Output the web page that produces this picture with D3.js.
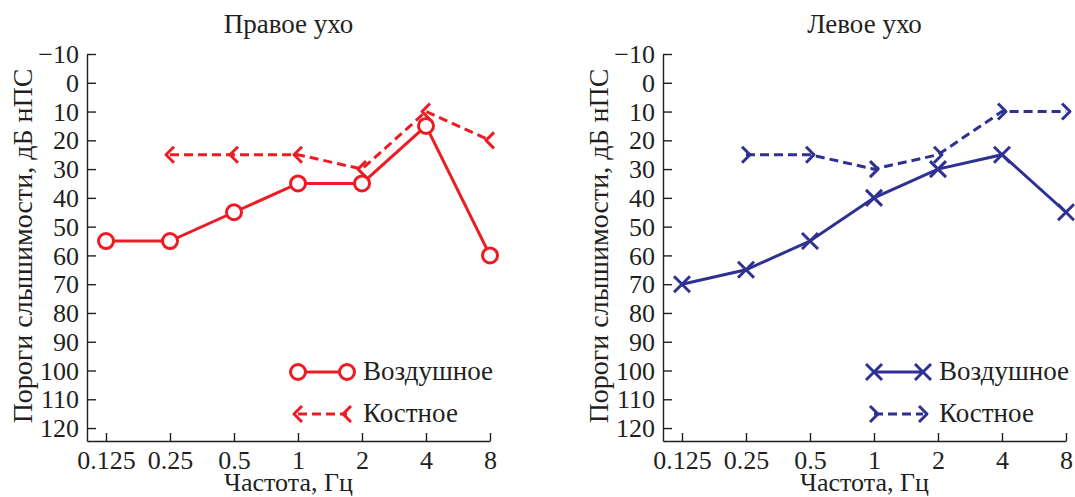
<!DOCTYPE html>
<html>
<head>
<meta charset="utf-8">
<script src="https://cdn.jsdelivr.net/npm/d3@7"></script>
<style>
  body { margin: 0; background: #fff; }
  svg { display: block; }
  svg text { font-family: "Liberation Serif", "Times New Roman", Times, serif !important; fill: #231f20; }
</style>
</head>
<body>
<svg id="svg" width="1075" height="497"></svg>
<script>
// frequencies, kHz (axis is labelled "Гц" in the original)
const freqs = [0.125, 0.25, 0.5, 1, 2, 4, 8];
const freqLabels = ['0.125', '0.25', '0.5', '1', '2', '4', '8'];
const dbTicks = [-10, 0, 10, 20, 30, 40, 50, 60, 70, 80, 90, 100, 110, 120];

// right ear
const rightAir = [55, 55, 45, 35, 35, 15, 60];
const rightBone = [null, 25, 25, 25, 30, 10, 20];
// left ear
const leftAir = [70, 65, 55, 40, 30, 25, 45];
const leftBone = [null, 25, 25, 30, 25, 10, 10];

const legendLabels = ['Воздушное', 'Костное'];

const panels = [
  {title: 'Правое ухо', air: rightAir, bone: rightBone, color: '#ed1c24', airMarker: 'o', boneMarker: '<', dx: 0},
  {title: 'Левое ухо', air: leftAir, bone: leftBone, color: '#2e3192', airMarker: 'x', boneMarker: '>', dx: 576}
];

/*********************
 * markers
 *********************/
const markerPaths = {
  '<': 'M4,-8L-4,0L4,8',
  '>': 'M-4,-8L4,0L-4,8',
  'x': 'M-8,-8L8,8M-8,8L8,-8'
};

function drawMarker(g, type, cx, cy, color) {
  if (type === 'o') {
    g.append('circle')
      .attr('cx', cx).attr('cy', cy).attr('r', 7.5)
      .attr('fill', '#fff')
      .attr('stroke', color)
      .attr('stroke-width', 3);
  } else {
    g.append('path')
      .attr('d', markerPaths[type])
      .attr('transform', `translate(${cx},${cy})`)
      .attr('fill', 'none')
      .attr('stroke', color)
      .attr('stroke-width', 3)
      .attr('stroke-linejoin', 'round');
  }
}

/*********************
 * panel
 *********************/
const svg = d3.select('#svg');

// log2 x, first tick sits 19px right of the axis start
const x = d3.scaleLog().base(2)
  .domain([0.125 / Math.pow(2, 19 / 64), 8])
  .range([87, 490]);
const y = d3.scaleLinear().domain([-10, 124.5]).range([54, 441]);

function drawPanel(p) {
  const g = svg.append('g').attr('transform', `translate(${p.dx},0)`);

  g.append('text')
    .attr('x', (87 + 490) / 2).attr('y', 33)
    .attr('text-anchor', 'middle')
    .style('font-size', '27px')
    .text(p.title);

  const xAxis = g.append('g')
    .attr('transform', `translate(0,${y.range()[1]})`)
    .call(d3.axisBottom(x)
      .tickValues(freqs)
      .tickFormat((d, i) => freqLabels[i])
      .tickSizeInner(-8)
      .tickSizeOuter(0)
      .tickPadding(10));

  const yAxis = g.append('g')
    .attr('transform', `translate(${x.range()[0]},0)`)
    .call(d3.axisLeft(y)
      .tickValues(dbTicks)
      .tickSizeInner(-9)
      .tickSizeOuter(0)
      .tickPadding(8)
      .tickFormat(d => d < 0 ? '\u2212' + (-d) : d));

  [xAxis, yAxis].forEach(a => {
    a.attr('font-family', null).attr('font-size', null);
    a.selectAll('path, line').attr('stroke', '#231f20').attr('stroke-width', 1.4);
    a.selectAll('text')
      .style('font-size', '26px')
      .attr('fill', '#231f20');
  });
  yAxis.selectAll('text').attr('dy', '0.33em');

  g.append('text')
    .attr('x', (87 + 490) / 2).attr('y', 491)
    .attr('text-anchor', 'middle')
    .style('font-size', '26px')
    .text('Частота, Гц');

  g.append('text')
    .attr('transform', 'translate(32,246) rotate(-90)')
    .attr('text-anchor', 'middle')
    .style('font-size', '28px')
    .text('Пороги слышимости, дБ нПС');

  const line = d3.line()
    .defined(d => d.v != null)
    .x(d => x(d.f))
    .y(d => y(d.v));

  const bone = freqs.map((f, i) => ({f, v: p.bone[i]}));
  const air = freqs.map((f, i) => ({f, v: p.air[i]}));

  g.append('path')
    .datum(bone)
    .attr('d', line)
    .attr('fill', 'none')
    .attr('stroke', p.color)
    .attr('stroke-width', 3)
    .attr('stroke-dasharray', '9,5');
  bone.filter(d => d.v != null)
    .forEach(d => drawMarker(g, p.boneMarker, x(d.f), y(d.v), p.color));

  g.append('path')
    .datum(air)
    .attr('d', line)
    .attr('fill', 'none')
    .attr('stroke', p.color)
    .attr('stroke-width', 3);
  air.forEach(d => drawMarker(g, p.airMarker, x(d.f), y(d.v), p.color));

  // legend
  const lx1 = 298, lx2 = 347, ly = [372, 414];
  g.append('line')
    .attr('x1', lx1).attr('x2', lx2).attr('y1', ly[0]).attr('y2', ly[0])
    .attr('stroke', p.color).attr('stroke-width', 3);
  drawMarker(g, p.airMarker, lx1, ly[0], p.color);
  drawMarker(g, p.airMarker, lx2, ly[0], p.color);

  g.append('line')
    .attr('x1', lx1).attr('x2', lx2).attr('y1', ly[1]).attr('y2', ly[1])
    .attr('stroke', p.color).attr('stroke-width', 3)
    .attr('stroke-dasharray', '9,5');
  drawMarker(g, p.boneMarker, lx1, ly[1], p.color);
  drawMarker(g, p.boneMarker, lx2, ly[1], p.color);

  legendLabels.forEach((t, i) => {
    g.append('text')
      .attr('x', 363).attr('y', ly[i] + 8)
      .style('font-size', '27px')
      .text(t);
  });
}

panels.forEach(drawPanel);
</script>
</body>
</html>
